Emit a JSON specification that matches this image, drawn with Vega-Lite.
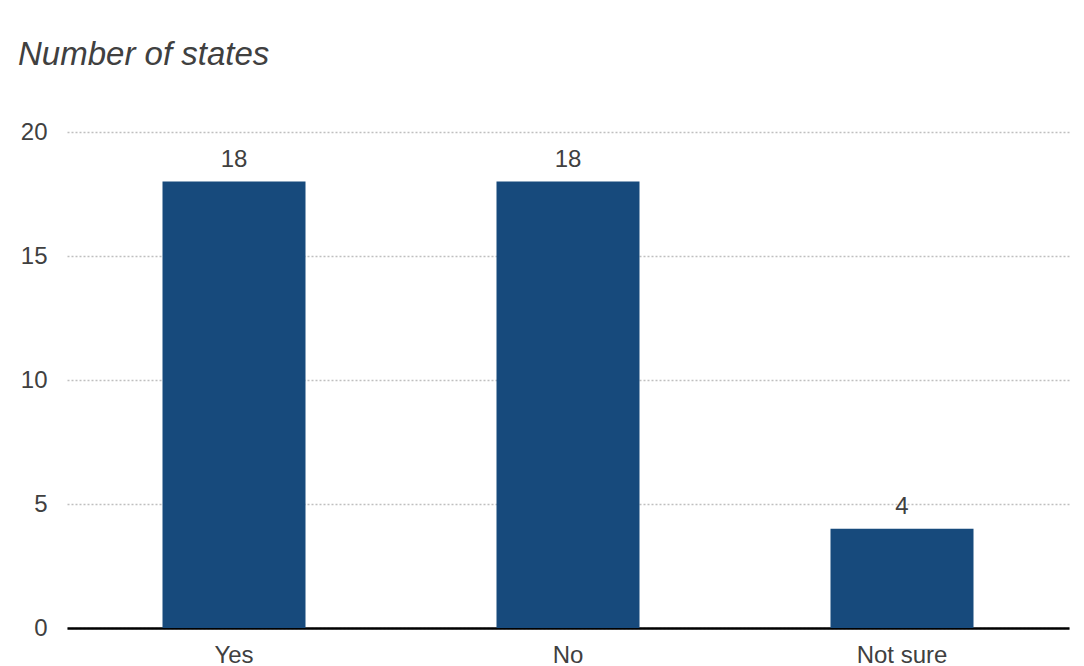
{
  "$schema": "https://vega.github.io/schema/vega-lite/v6.json",
  "autosize": "none",
  "padding": {"left": 67, "top": 132, "right": 15, "bottom": 38},
  "width": 1002,
  "height": 496,
  "background": "white",
  "title": {
    "text": "Number of states",
    "anchor": "start",
    "frame": "group",
    "dx": -49,
    "offset": 48,
    "font": "Liberation Sans",
    "fontSize": 33,
    "fontStyle": "italic",
    "fontWeight": "normal",
    "color": "#404040"
  },
  "data": {
    "values": [
      {"answer": "Yes", "states": 18},
      {"answer": "No", "states": 18},
      {"answer": "Not sure", "states": 4}
    ]
  },
  "encoding": {
    "x": {
      "field": "answer",
      "type": "nominal",
      "sort": null,
      "scale": {"paddingInner": 0, "paddingOuter": 0},
      "axis": {
        "title": null,
        "labelAngle": 0,
        "labelFont": "Liberation Sans",
        "labelFontSize": 24,
        "labelColor": "#404040",
        "labelPadding": 15,
        "ticks": false,
        "domainColor": "#000000",
        "domainWidth": 2.5,
        "grid": false
      }
    },
    "y": {
      "field": "states",
      "type": "quantitative",
      "scale": {"domain": [0, 20]},
      "axis": {
        "title": null,
        "values": [0, 5, 10, 15, 20],
        "domain": false,
        "ticks": false,
        "labelFont": "Liberation Sans",
        "labelFontSize": 24,
        "labelColor": "#404040",
        "labelPadding": 20,
        "gridColor": "#bfbfbf",
        "gridDash": [2, 2],
        "gridWidth": 1.5
      }
    }
  },
  "layer": [
    {"mark": {"type": "bar", "size": 143, "color": "#174a7c"}},
    {
      "mark": {
        "type": "text",
        "dy": -22,
        "font": "Liberation Sans",
        "fontSize": 24,
        "color": "#404040"
      },
      "encoding": {"text": {"field": "states", "type": "quantitative"}}
    }
  ],
  "config": {"view": {"stroke": null}}
}
